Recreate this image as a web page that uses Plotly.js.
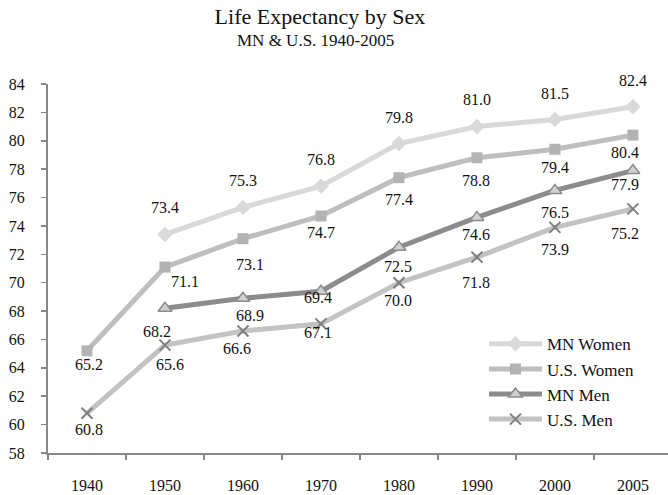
<!DOCTYPE html>
<html>
<head>
<meta charset="utf-8">
<script src="https://cdn.plot.ly/plotly-3.0.1.min.js"></script>
<style>html,body{margin:0;padding:0;background:#fff;}#chart{width:668px;height:495px;}</style>
</head>
<body>
<div id="chart"></div>
<script>
// ---- data ----
var years = ["1940", "1950", "1960", "1970", "1980", "1990", "2000", "2005"];
var mnWomen = [null, 73.4, 75.3, 76.8, 79.8, 81.0, 81.5, 82.4];
var usWomen = [65.2, 71.1, 73.1, 74.7, 77.4, 78.8, 79.4, 80.4];
var mnMen = [null, 68.2, 68.9, 69.4, 72.5, 74.6, 76.5, 77.9];
var usMen = [60.8, 65.6, 66.6, 67.1, 70.0, 71.8, 73.9, 75.2];
var seriesNames = ["MN Women", "U.S. Women", "MN Men", "U.S. Men"];
var yTicks = [58, 60, 62, 64, 66, 68, 70, 72, 74, 76, 78, 80, 82, 84];

// ---- label placement (pixel offsets from each point; +dy = down) ----
var labelDx = [
  [0, 0, 0, 0, 0, 0, 0, 0],
  [2, 20, 7, 0, 0, -1, 0, -8],
  [0, -8, 7, -3, -1, -1, 0, -8],
  [2, 5, -6, -3, -1, -1, 0, -8]
];
var labelDy = [
  [-26.5, -26.5, -26.5, -27, -26.5, -26.8, -26.4, -26.3],
  [13.6, 14.6, 25.6, 16.6, 22, 22.7, 17.8, 17.4],
  [0, 23.5, 17.5, 6.5, 19.5, 17.5, 22, 13.6],
  [16, 19, 18, 9, 18, 25, 22.6, 24.3]
];

var FONT = '"Liberation Serif", "Times New Roman", serif';
var allSeries = [mnWomen, usWomen, mnMen, usMen];

var traces = [
  {
    name: seriesNames[0], x: years, y: mnWomen, type: 'scatter', mode: 'lines+markers',
    line: {color: '#d9d9d9', width: 5},
    marker: {symbol: 'diamond', size: 12, color: '#d9d9d9'},
    legendgroup: 'a'
  },
  {
    name: seriesNames[1], x: years, y: usWomen, type: 'scatter', mode: 'lines+markers',
    line: {color: '#bebebe', width: 5},
    marker: {symbol: 'square', size: 11, color: '#b3b3b3'},
    legendgroup: 'b'
  },
  {
    name: seriesNames[2], x: years, y: mnMen, type: 'scatter', mode: 'lines+markers',
    line: {color: '#8c8c8c', width: 5},
    marker: {symbol: 'triangle-up', size: 12, color: '#d0d0d0', line: {color: '#8c8c8c', width: 1.5}},
    legendgroup: 'c'
  },
  {
    name: seriesNames[3], x: years, y: usMen, type: 'scatter', mode: 'lines+markers',
    line: {color: '#c3c3c3', width: 5},
    marker: {symbol: 'x-thin-open', size: 11, color: '#7f7f7f', line: {color: '#7f7f7f', width: 2}},
    legendgroup: 'd'
  }
];

var annotations = [];
allSeries.forEach(function (vals, s) {
  vals.forEach(function (v, i) {
    if (v === null) return;
    annotations.push({
      x: i, y: v, xref: 'x', yref: 'y',
      text: v.toFixed(1), showarrow: false,
      xanchor: 'center', yanchor: 'middle',
      xshift: labelDx[s][i], yshift: -labelDy[s][i],
      font: {family: FONT, size: 16, color: '#111'}
    });
  });
});
annotations.push({
  text: 'MN &amp; U.S. 1940-2005', xref: 'paper', yref: 'paper',
  x: 0.432, y: 1.119, xanchor: 'center', yanchor: 'middle', showarrow: false,
  font: {family: FONT, size: 17, color: '#111'}
});

var layout = {
  width: 668, height: 495,
  margin: {l: 48, r: 0, t: 84, b: 42},
  paper_bgcolor: '#fff', plot_bgcolor: '#fff',
  font: {family: FONT, color: '#111'},
  title: {
    text: 'Life Expectancy by Sex',
    font: {family: FONT, size: 22, color: '#111'},
    x: 0.479, xref: 'container', xanchor: 'center',
    y: 1 - 16 / 495, yref: 'container', yanchor: 'middle'
  },
  xaxis: {
    type: 'category', range: [-0.5, 7.45],
    showgrid: false, zeroline: false,
    showline: true, linecolor: '#878787', linewidth: 2,
    ticks: 'outside', tickson: 'boundaries', ticklen: 5, tickwidth: 1.5, tickcolor: '#878787',
    ticklabelstandoff: 17,
    tickfont: {family: FONT, size: 16, color: '#111'}
  },
  yaxis: {
    range: [58, 84], tickmode: 'array', tickvals: yTicks, ticktext: yTicks.map(String),
    showgrid: false, zeroline: false,
    showline: true, linecolor: '#878787', linewidth: 2,
    ticks: 'outside', ticklen: 5, tickwidth: 1.5, tickcolor: '#878787',
    ticklabelstandoff: 13,
    tickfont: {family: FONT, size: 16, color: '#111'}
  },
  showlegend: true,
  legend: {
    x: 0.7032, y: 0.3435, xanchor: 'left', yanchor: 'top',
    xref: 'paper', yref: 'paper',
    bgcolor: 'rgba(0,0,0,0)', borderwidth: 0,
    font: {family: FONT, size: 17, color: '#111'},
    itemwidth: 53, tracegroupgap: 0
  },
  annotations: annotations
};

Plotly.newPlot('chart', traces, layout, {displayModeBar: false, staticPlot: true});
</script>
</body>
</html>
